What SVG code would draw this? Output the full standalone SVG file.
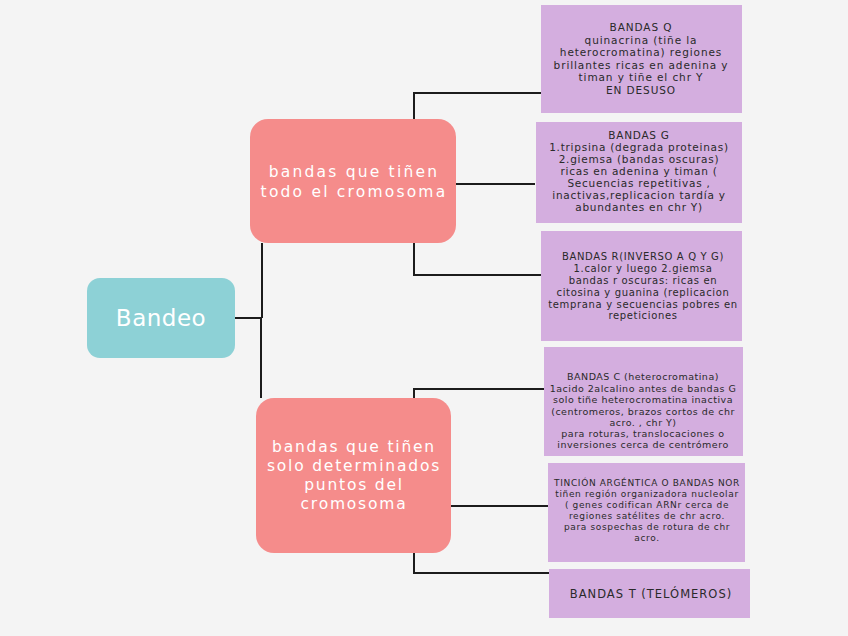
<svg xmlns="http://www.w3.org/2000/svg" width="848" height="636" viewBox="0 0 848 636">
<style>
.bg{fill:#f4f4f4}
.root{fill:#8dd1d6}
.mid{fill:#f58c8b}
.leaf{fill:#d4aedf}
.wt{fill:#ffffff;font-family:"DejaVu Sans","Liberation Sans",sans-serif;text-anchor:middle}
.lt{fill:#2a2a2a;font-family:"DejaVu Sans","Liberation Sans",sans-serif;text-anchor:middle}
.c{fill:none;stroke:#1c1c1c;stroke-width:2}
</style>
<rect class="bg" x="0" y="0" width="848" height="636"/>
<g id="connectors">
<path class="c" d="M235 318 H261"/>
<path class="c" d="M262 243 V318 M261 318 V398"/>
<path class="c" d="M414 119 V93 H541"/>
<path class="c" d="M456 184 H535"/>
<path class="c" d="M414 243 V275 H541"/>
<path class="c" d="M414 398 V389 H544"/>
<path class="c" d="M451 506 H548"/>
<path class="c" d="M414 553 V573 H549"/>
</g>
<g id="bandeo">
<rect class="root" x="87" y="278" width="148" height="80" rx="13"/>
<text class="wt" x="161" y="326" font-size="23" letter-spacing="0.5">Bandeo</text>
</g>
<g id="todo">
<rect class="mid" x="250" y="119" width="206" height="124" rx="18"/>
<text class="wt" font-size="15.5" letter-spacing="2.2"><tspan x="354" y="177">bandas que tiñen</tspan><tspan x="354" y="197">todo el cromosoma</tspan></text>
</g>
<g id="puntos">
<rect class="mid" x="256" y="398" width="195" height="155" rx="18"/>
<text class="wt" font-size="15.5" letter-spacing="1.8"><tspan x="354" y="452">bandas que tiñen</tspan><tspan x="354" y="471">solo determinados</tspan><tspan x="354" y="490">puntos del</tspan><tspan x="354" y="509">cromosoma</tspan></text>
</g>
<g id="bandasQ">
<rect class="leaf" x="541" y="5" width="201" height="108"/>
<text class="lt" font-size="10.5" letter-spacing="0.9"><tspan x="641" y="31">BANDAS Q</tspan><tspan x="641" y="43.5">quinacrina (tiñe la</tspan><tspan x="641" y="56">heterocromatina)  regiones</tspan><tspan x="641" y="68.5">brillantes ricas en adenina y</tspan><tspan x="641" y="81">timan y tiñe el chr Y</tspan><tspan x="641" y="93.5">EN DESUSO</tspan></text>
</g>
<g id="bandasG">
<rect class="leaf" x="536" y="122" width="206" height="101"/>
<text class="lt" font-size="10.5" letter-spacing="0.75"><tspan x="639" y="139">BANDAS G</tspan><tspan x="639" y="151">1.tripsina (degrada proteinas)</tspan><tspan x="639" y="163">2.giemsa (bandas oscuras)</tspan><tspan x="639" y="175">ricas en adenina y timan (</tspan><tspan x="639" y="187">Secuencias repetitivas ,</tspan><tspan x="639" y="199">inactivas,replicacion tardía y</tspan><tspan x="639" y="211">abundantes en chr Y)</tspan></text>
</g>
<g id="bandasR">
<rect class="leaf" x="541" y="231" width="201" height="110"/>
<text class="lt" font-size="10" letter-spacing="0.65"><tspan x="643" y="260">BANDAS R(INVERSO A Q Y G)</tspan><tspan x="643" y="272">1.calor y luego 2.giemsa</tspan><tspan x="643" y="284">bandas r oscuras: ricas en</tspan><tspan x="643" y="296">citosina y guanina (replicacion</tspan><tspan x="643" y="308">temprana y secuencias pobres en</tspan><tspan x="643" y="319">repeticiones</tspan></text>
</g>
<g id="bandasC">
<rect class="leaf" x="544" y="347" width="199" height="109"/>
<text class="lt" font-size="9.5" letter-spacing="0.5"><tspan x="643" y="380">BANDAS C (heterocromatina)</tspan><tspan x="643" y="392">1acido 2alcalino antes de bandas G</tspan><tspan x="643" y="403">solo tiñe heterocromatina inactiva</tspan><tspan x="643" y="414.5">(centromeros, brazos cortos de chr</tspan><tspan x="643" y="425.5">acro. , chr Y)</tspan><tspan x="643" y="436.5">para roturas, translocaciones o</tspan><tspan x="643" y="447.5">inversiones cerca de centrómero</tspan></text>
</g>
<g id="bandasNOR">
<rect class="leaf" x="548" y="463" width="197" height="99"/>
<text class="lt" font-size="9" letter-spacing="0.65"><tspan x="647" y="486">TINCIÓN ARGÉNTICA O BANDAS NOR</tspan><tspan x="647" y="497">tiñen región organizadora nucleolar</tspan><tspan x="647" y="508">( genes codifican ARNr cerca de</tspan><tspan x="647" y="519">regiones satélites de chr acro.</tspan><tspan x="647" y="530">para sospechas de rotura de chr</tspan><tspan x="647" y="541">acro.</tspan></text>
</g>
<g id="bandasT">
<rect class="leaf" x="549" y="569" width="201" height="49"/>
<text class="lt" font-size="11.5" letter-spacing="1"><tspan x="651" y="598">BANDAS T (TELÓMEROS)</tspan></text>
</g>
</svg>
